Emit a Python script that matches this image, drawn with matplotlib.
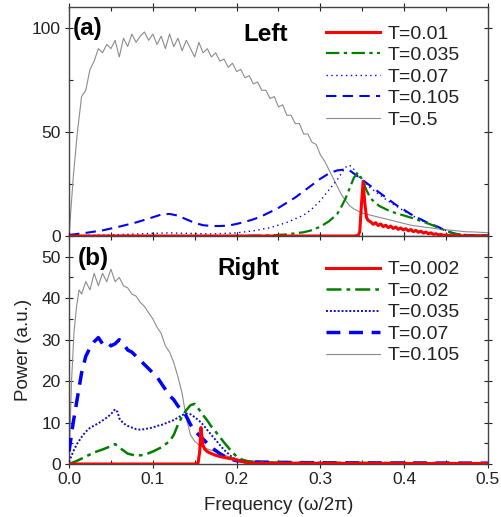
import matplotlib
matplotlib.use("Agg")
import matplotlib.pyplot as plt
from matplotlib.ticker import MultipleLocator

plt.rcParams["font.family"] = ["Liberation Sans", "DejaVu Sans"]

# ── Panel (a): "Left" spectra ─────────────────────────────────────────────
freq_a_gray = [i * 0.005 for i in range(101)]
pow_a_t050 = [0, 28, 50, 67, 70, 80, 84, 90, 88, 92, 90, 94, 86, 95, 91, 97, 93, 96, 98, 94,
              97, 92, 96, 90, 97, 91, 95, 89, 94, 90, 86, 93, 88, 90, 86, 88, 84, 85, 81, 83,
              79, 80, 76, 77, 73, 74, 70, 70, 66, 67, 62, 63, 58, 58, 54, 54, 49, 49, 45, 44,
              39, 36, 32, 28, 24, 20, 17, 14.5, 13, 12, 11, 10.5, 10, 9.5, 9, 8.5, 8, 7.5, 7, 6.5,
              6, 5.5, 5, 4.8, 4.5, 4.2, 4, 3.7, 3.4, 3.2, 3, 2.8, 2.6, 2.4, 2.2, 2, 2, 1.9, 1.8,
              1.7, 1.6]

freq_a_t0105 = [0, 0.02, 0.04, 0.06, 0.08, 0.10, 0.11, 0.12, 0.13, 0.14, 0.15, 0.16, 0.17,
                0.18, 0.19, 0.20, 0.21, 0.22, 0.23, 0.24, 0.25, 0.26, 0.27, 0.28, 0.29, 0.30,
                0.31, 0.32, 0.33, 0.335, 0.34, 0.35, 0.36, 0.37, 0.38, 0.39, 0.40, 0.41, 0.42,
                0.43, 0.44, 0.45, 0.46, 0.47, 0.48, 0.50]
pow_a_t0105 = [0.5, 1.5, 2.7, 4.5, 6.5, 9, 10.3, 10.6, 9.8, 8, 6.3, 5.2, 4.8, 4.8, 5, 5.8,
               6.8, 8, 9.5, 11.5, 13.5, 16, 18.5, 21.5, 24.5, 27.5, 30, 31.5, 32, 31.5, 30,
               27, 24, 21, 18, 15, 12.5, 10, 8, 6, 4.5, 2.5, 1.2, 0.6, 0.4, 0.3]

freq_a_t007 = [0, 0.05, 0.10, 0.12, 0.14, 0.17, 0.20, 0.22, 0.24, 0.26, 0.28, 0.29, 0.30,
               0.31, 0.32, 0.33, 0.335, 0.34, 0.345, 0.35, 0.36, 0.38, 0.40, 0.42, 0.44,
               0.46, 0.48, 0.50]
pow_a_t007 = [0.1, 0.5, 1.3, 1.5, 1.3, 1.0, 1.5, 2.5, 4, 6.5, 10, 13, 17, 22, 27, 33, 34,
              32, 29, 26.5, 23, 17, 12, 7.5, 4, 1.2, 0.4, 0.3]

freq_a_t0035 = [0, 0.20, 0.24, 0.26, 0.28, 0.29, 0.30, 0.31, 0.32, 0.325, 0.33, 0.335, 0.34,
                0.345, 0.35, 0.355, 0.36, 0.37, 0.38, 0.39, 0.40, 0.41, 0.42, 0.43, 0.44,
                0.45, 0.46, 0.47, 0.48, 0.50]
pow_a_t0035 = [0, 0, 0.3, 0.8, 1.8, 2.8, 4.5, 7, 10.5, 14, 18, 23, 28, 30.5, 27, 22, 18,
               14.5, 12.5, 11, 9.8, 8.6, 7.2, 5.8, 4.2, 2.5, 1.0, 0.5, 0.3, 0.2]

freq_a_t001 = [0, 0.34, 0.345, 0.347, 0.349, 0.351, 0.353, 0.355, 0.357, 0.36, 0.363, 0.366,
               0.369, 0.372, 0.375, 0.378, 0.381, 0.384, 0.387, 0.39, 0.393, 0.396, 0.399,
               0.402, 0.405, 0.408, 0.411, 0.414, 0.417, 0.42, 0.423, 0.426, 0.429, 0.432,
               0.435, 0.438, 0.441, 0.444, 0.447, 0.45, 0.455, 0.46, 0.50]
pow_a_t001 = [0, 0, 0.2, 2, 15, 26, 16, 9, 7.5, 6.8, 5.6, 6.4, 5.0, 5.8, 4.5, 5.2, 4.0, 4.8,
              3.6, 4.3, 3.2, 3.9, 2.9, 3.5, 2.5, 3.1, 2.1, 2.7, 1.8, 2.3, 1.4, 1.9, 1.1, 1.5,
              0.8, 1.1, 0.5, 0.8, 0.3, 0.5, 0.2, 0.1, 0]

# ── Panel (b): "Right" spectra ────────────────────────────────────────────
freq_b_t0105 = [0, 0.003, 0.006, 0.009, 0.012, 0.015, 0.020, 0.025, 0.030, 0.035, 0.040,
                0.045, 0.050, 0.055, 0.060, 0.065, 0.070, 0.075, 0.080, 0.085, 0.090, 0.095,
                0.100, 0.105, 0.110, 0.115, 0.120, 0.125, 0.130, 0.135, 0.140, 0.145, 0.150,
                0.155, 0.160, 0.170, 0.180, 0.190, 0.200, 0.220, 0.250, 0.300, 0.500]
pow_b_t0105 = [0, 20, 32, 38, 42, 41, 44, 42, 46, 43, 46, 44, 47, 44, 45, 43, 42.5, 41, 40.5,
               39, 38, 36.5, 35, 33, 31.5, 28.5, 27, 24.5, 21, 17, 11, 7, 5.5, 4.6, 4, 3.3,
               2.6, 1.8, 1.2, 0.6, 0.3, 0.2, 0.1]

freq_b_t007 = [0, 0.005, 0.010, 0.015, 0.020, 0.025, 0.030, 0.035, 0.040, 0.045, 0.050,
               0.055, 0.060, 0.065, 0.070, 0.075, 0.080, 0.085, 0.090, 0.095, 0.100, 0.105,
               0.110, 0.115, 0.120, 0.125, 0.130, 0.135, 0.140, 0.145, 0.150, 0.155, 0.160,
               0.165, 0.170, 0.180, 0.190, 0.200, 0.220, 0.250, 0.300, 0.500]
pow_b_t007 = [3, 10, 16, 22, 26, 28, 29.5, 30.5, 29, 29.5, 28.5, 29, 30, 29, 27.5, 27, 26,
              25, 24, 23, 22, 21, 19.5, 18, 16.5, 15.5, 14, 13, 11.5, 9.5, 8, 7, 6, 5, 4,
              2.5, 1.3, 0.8, 0.5, 0.4, 0.3, 0.2]

freq_b_t0035 = [0, 0.005, 0.010, 0.015, 0.020, 0.025, 0.030, 0.035, 0.040, 0.045, 0.050,
                0.055, 0.058, 0.060, 0.065, 0.070, 0.075, 0.080, 0.085, 0.090, 0.095, 0.100,
                0.105, 0.110, 0.115, 0.120, 0.125, 0.130, 0.135, 0.140, 0.145, 0.150, 0.155,
                0.160, 0.165, 0.170, 0.175, 0.180, 0.185, 0.190, 0.195, 0.200, 0.210, 0.250,
                0.500]
pow_b_t0035 = [0.5, 3, 5, 6.5, 7.8, 8.7, 9.3, 9.8, 10.5, 11.2, 12, 13.2, 12.5, 11, 9.8, 9.2,
               8.8, 8.4, 8.3, 8.4, 8.6, 8.8, 9.2, 9.4, 9.8, 10.2, 10.6, 11.2, 11.8, 12.2, 12,
               11.3, 10.5, 9.5, 8.2, 7, 5.8, 4.6, 3.4, 2.5, 1.6, 1, 0.6, 0.3, 0.2]

freq_b_t002 = [0, 0.010, 0.020, 0.030, 0.040, 0.050, 0.055, 0.060, 0.070, 0.080, 0.090,
               0.100, 0.110, 0.120, 0.125, 0.130, 0.135, 0.140, 0.145, 0.150, 0.155, 0.160,
               0.165, 0.170, 0.175, 0.180, 0.185, 0.190, 0.195, 0.200, 0.205, 0.210, 0.220,
               0.250, 0.500]
pow_b_t002 = [0, 0.8, 1.8, 2.8, 3.5, 4.3, 4.8, 4, 2.5, 2, 2.2, 3, 4, 5.5, 7, 9.5, 11.5, 13,
              14.2, 14.5, 13.2, 11.8, 10.5, 9, 7.8, 6.5, 5.2, 4, 2.8, 1.8, 1.2, 0.8, 0.5,
              0.3, 0.2]

freq_b_t0002 = [0, 0.150, 0.154, 0.156, 0.1575, 0.159, 0.160, 0.162, 0.165, 0.170, 0.175,
                0.180, 0.185, 0.190, 0.195, 0.200, 0.205, 0.210, 0.220, 0.500]
pow_b_t0002 = [0, 0, 0.2, 3, 8.8, 6, 4.5, 3.6, 3, 2.5, 2.1, 1.8, 1.6, 1.4, 1.2, 1.0, 0.7,
               0.4, 0.2, 0.1]

labels_a = ["T=0.01", "T=0.035", "T=0.07", "T=0.105", "T=0.5"]
labels_b = ["T=0.002", "T=0.02", "T=0.035", "T=0.07", "T=0.105"]

RED = "#ff0000"
GREEN = "#008000"
BLUE = "#0000ff"
NAVY = "#1010c0"
GRAY = "#8c8c8c"
INK = "#222222"

fig = plt.figure(figsize=(5.02, 5.17), dpi=100)
ax_a = fig.add_axes([0.1375, 0.5435, 0.8345, 0.443])
ax_b = fig.add_axes([0.1375, 0.1025, 0.8345, 0.441], sharex=ax_a)

# panel (a)
ax_a.plot(freq_a_t001, pow_a_t001, color=RED, lw=2.2, label=labels_a[0], zorder=5)
ax_a.plot(freq_a_t0035, pow_a_t0035, color=GREEN, lw=1.6, dashes=(6, 2, 1.5, 2), label=labels_a[1], zorder=4)
ax_a.plot(freq_a_t007, pow_a_t007, color=BLUE, lw=1.0, dashes=(1, 2.5), label=labels_a[2], zorder=3)
ax_a.plot(freq_a_t0105, pow_a_t0105, color=BLUE, lw=1.5, dashes=(5, 3), label=labels_a[3], zorder=3)
ax_a.plot(freq_a_gray, pow_a_t050, color=GRAY, lw=0.8, label=labels_a[4], zorder=2)

# panel (b)
ax_b.plot(freq_b_t0002, pow_b_t0002, color=RED, lw=2.2, label=labels_b[0], zorder=5)
ax_b.plot(freq_b_t002, pow_b_t002, color=GREEN, lw=1.8, dashes=(6, 2, 1.5, 2), label=labels_b[1], zorder=4)
ax_b.plot(freq_b_t0035, pow_b_t0035, color=NAVY, lw=1.4, dashes=(1, 1), label=labels_b[2], zorder=3)
ax_b.plot(freq_b_t007, pow_b_t007, color=BLUE, lw=2.5, dashes=(4, 2.5), label=labels_b[3], zorder=3)
ax_b.plot(freq_b_t0105, pow_b_t0105, color=GRAY, lw=0.8, label=labels_b[4], zorder=2)

ax_a.set_xlim(0, 0.5)
ax_a.set_ylim(0, 110)
ax_b.set_ylim(0, 55)

ax_a.yaxis.set_major_locator(MultipleLocator(50))
ax_a.yaxis.set_minor_locator(MultipleLocator(25))
ax_b.yaxis.set_major_locator(MultipleLocator(10))
ax_b.yaxis.set_minor_locator(MultipleLocator(5))
ax_b.xaxis.set_major_locator(MultipleLocator(0.1))
ax_b.xaxis.set_minor_locator(MultipleLocator(0.05))
ax_b.xaxis.set_major_formatter(plt.FormatStrFormatter("%.1f"))

for ax in (ax_a, ax_b):
    ax.tick_params(which="major", direction="inout", length=6, width=0.8,
                   top=True, right=True, labelsize=12.5, colors=INK, pad=3)
    ax.tick_params(which="minor", direction="in", length=3, width=0.8,
                   top=True, right=True, colors=INK)
    for sp in ax.spines.values():
        sp.set_color("#444444")
        sp.set_linewidth(1.0)
ax_a.tick_params(labelbottom=False)

ax_b.set_xlabel("Frequency (\u03c9/2\u03c0)", fontsize=13.5, color=INK, labelpad=7)
ax_b.set_ylabel("Power (a.u.)", fontsize=13.5, color=INK, labelpad=7)

ax_a.text(0.008, 0.958, "(a)", transform=ax_a.transAxes, fontsize=17.5, fontweight="bold",
          va="top", ha="left", color="black")
ax_a.text(0.415, 0.93, "Left", transform=ax_a.transAxes, fontsize=17.5, fontweight="bold",
          va="top", ha="left", color="black")
ax_b.text(0.02, 0.95, "(b)", transform=ax_b.transAxes, fontsize=17.5, fontweight="bold",
          va="top", ha="left", color="black")
ax_b.text(0.355, 0.91, "Right", transform=ax_b.transAxes, fontsize=17.5, fontweight="bold",
          va="top", ha="left", color="black")

legend_kw = dict(frameon=False, fontsize=14, handlelength=2.8, handletextpad=0.4,
                 labelspacing=0.2, borderaxespad=0.0, loc="upper left")
leg_a = ax_a.legend(bbox_to_anchor=(0.594, 0.955), **legend_kw)
leg_b = ax_b.legend(bbox_to_anchor=(0.594, 0.925), **legend_kw)
for leg in (leg_a, leg_b):
    for t in leg.get_texts():
        t.set_color(INK)

fig.savefig("out.png", dpi=100)
